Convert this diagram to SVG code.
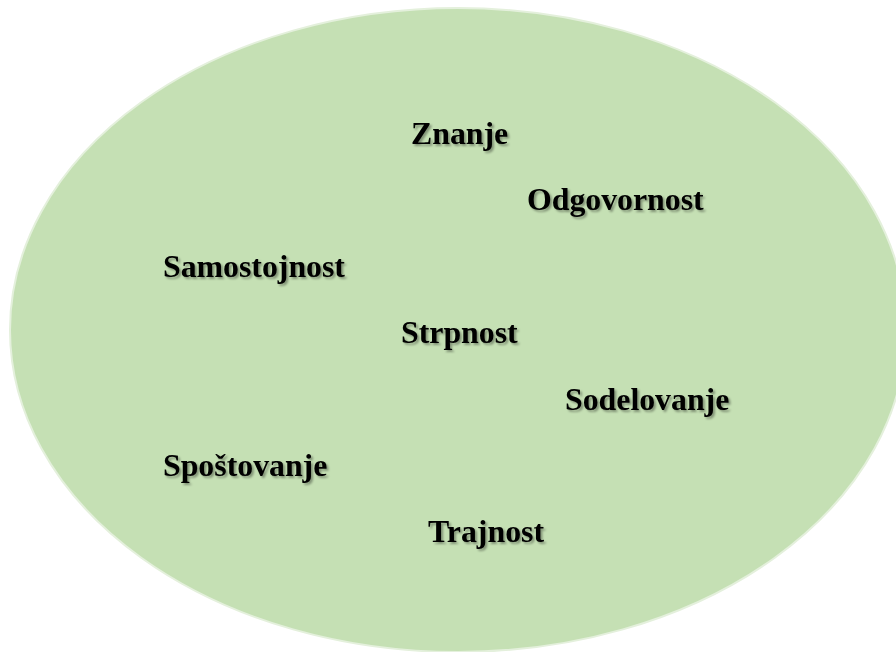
<svg xmlns="http://www.w3.org/2000/svg" width="896" height="652" viewBox="0 0 896 652">
<defs>
<filter id="sh" x="-10%" y="-30%" width="120%" height="160%">
<feDropShadow dx="2" dy="2" stdDeviation="1" flood-color="#000" flood-opacity="0.35"/>
</filter>
</defs>
<style>
.lbl{font-family:"Liberation Serif","Times New Roman",serif;font-weight:bold;font-size:31.8px;fill:#000;filter:url(#sh)}
</style>
<rect width="896" height="652" fill="#fff"/>
<g id="ellipse">
<ellipse cx="458" cy="330" rx="448" ry="322" fill="#C5E0B4" stroke="#E4F0DC" stroke-width="2"/>
</g>
<g id="znanje"><text class="lbl" x="411" y="144">Znanje</text></g>
<g id="odgovornost"><text class="lbl" x="527" y="210">Odgovornost</text></g>
<g id="samostojnost"><text class="lbl" x="163" y="277">Samostojnost</text></g>
<g id="strpnost"><text class="lbl" x="401" y="343">Strpnost</text></g>
<g id="sodelovanje"><text class="lbl" x="565" y="410">Sodelovanje</text></g>
<g id="spostovanje"><text class="lbl" x="163" y="476">Spoštovanje</text></g>
<g id="trajnost"><text class="lbl" x="428" y="542">Trajnost</text></g>
<g id="connectors"></g>
</svg>
